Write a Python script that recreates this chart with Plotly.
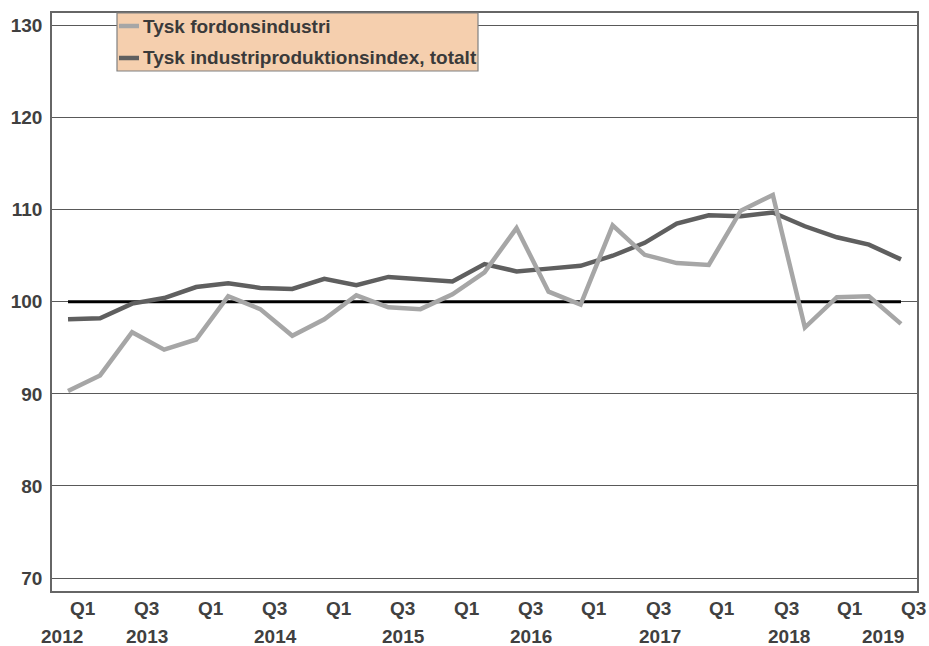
import plotly.graph_objects as go

# Quarterly index values (2015 = 100)
fordon = [90.3, 92.0, 96.7, 94.8, 95.9, 100.6, 99.2, 96.3, 98.1, 100.7,
          99.4, 99.2, 100.8, 103.2, 108.0, 101.1, 99.7, 108.3, 105.1, 104.2,
          104.0, 109.9, 111.6, 97.2, 100.5, 100.6, 97.6]
industri = [98.1, 98.2, 99.8, 100.4, 101.6, 102.0, 101.5, 101.4, 102.5, 101.8,
            102.7, 102.4, 102.2, 104.1, 103.3, 103.6, 103.9, 105.0, 106.4, 108.5,
            109.4, 109.3, 109.7, 108.2, 107.0, 106.2, 104.6]
baseline = 100

series_names = ["Tysk fordonsindustri", "Tysk industriproduktionsindex, totalt"]
series_colors = ["#a6a6a6", "#5f5f5f"]

quarter_labels = ["Q1", "Q3", "Q1", "Q3", "Q1", "Q3", "Q1", "Q3", "Q1", "Q3",
                  "Q1", "Q3", "Q1", "Q3"]
quarter_label_pos = [0.47 + 1.995 * i for i in range(len(quarter_labels))]
year_labels = ["2012", "2013", "2014", "2015", "2016", "2017", "2018", "2019"]
year_label_pos = [-0.19, 2.45, 6.48, 10.47, 14.45, 18.48, 22.49, 25.45]

x = list(range(len(fordon)))

FONT = "Liberation Sans"
TXT = "#404040"
FS = 19

W, H = 929, 646
L, R, T, B = 52, 12, 13, 55
pw, ph = W - L - R, H - T - B


def px(xp):
    return (xp - L) / pw


def py(yp):
    return (H - B - yp) / ph


fig = go.Figure()

fig.add_trace(go.Scatter(x=[x[0], x[-1]], y=[baseline, baseline], mode="lines",
                         line=dict(color="#000000", width=3), showlegend=False,
                         hoverinfo="skip"))
fig.add_trace(go.Scatter(x=x, y=industri, mode="lines", name=series_names[1],
                         line=dict(color=series_colors[1], width=4.5), showlegend=False))
fig.add_trace(go.Scatter(x=x, y=fordon, mode="lines", name=series_names[0],
                         line=dict(color=series_colors[0], width=4.5), showlegend=False))

annotations = []
for lab, pos in zip(quarter_labels, quarter_label_pos):
    annotations.append(dict(x=pos, y=0, xref="x", yref="paper", text="<b>%s</b>" % lab,
                            showarrow=False, yanchor="middle", yshift=-17,
                            borderpad=0,
                            font=dict(family=FONT, size=FS, color=TXT)))
for lab, pos in zip(year_labels, year_label_pos):
    annotations.append(dict(x=pos, y=0, xref="x", yref="paper", text="<b>%s</b>" % lab,
                            showarrow=False, yanchor="middle", yshift=-45,
                            borderpad=0,
                            font=dict(family=FONT, size=FS, color=TXT)))

# Legend box drawn in paper space
shapes = [dict(type="rect", xref="paper", yref="paper",
               x0=px(117), x1=px(478), y0=py(71), y1=py(13),
               fillcolor="#f5cfae", line=dict(color="#808080", width=1.2),
               layer="above")]
for i, (name, col) in enumerate(zip(series_names, series_colors)):
    yc = [26, 58][i]
    shapes.append(dict(type="line", xref="paper", yref="paper",
                       x0=px(119), x1=px(139), y0=py(yc), y1=py(yc),
                       line=dict(color=col, width=4.5), layer="above"))
    annotations.append(dict(x=px(141), y=py(yc), xref="paper", yref="paper",
                            text="<b>%s</b>" % name, showarrow=False,
                            xanchor="left", yanchor="middle",
                            font=dict(family=FONT, size=FS, color="#3a3a3a")))

fig.update_layout(
    width=W, height=H,
    margin=dict(l=L, r=R, t=T, b=B, autoexpand=False),
    paper_bgcolor="white", plot_bgcolor="white",
    showlegend=False,
    shapes=shapes,
    annotations=annotations,
    font=dict(family=FONT, size=FS, color=TXT),
)
fig.update_xaxes(range=[-0.5, 26.5], showticklabels=False, showgrid=False,
                 zeroline=False, showline=True, mirror=True,
                 linecolor="#666666", linewidth=1.5, automargin=False)
fig.update_yaxes(range=[68.59, 131.36], tickvals=[70, 80, 90, 100, 110, 120, 130],
                 ticktext=["<b>%d</b>" % v for v in [70, 80, 90, 100, 110, 120, 130]],
                 showgrid=True, gridcolor="#595959", gridwidth=1,
                 zeroline=False, showline=True, mirror=True,
                 linecolor="#666666", linewidth=1.5, automargin=False,
                 ticks="", ticklabelstandoff=4,
                 tickfont=dict(family=FONT, size=FS, color=TXT))

fig.write_html("out.html")
